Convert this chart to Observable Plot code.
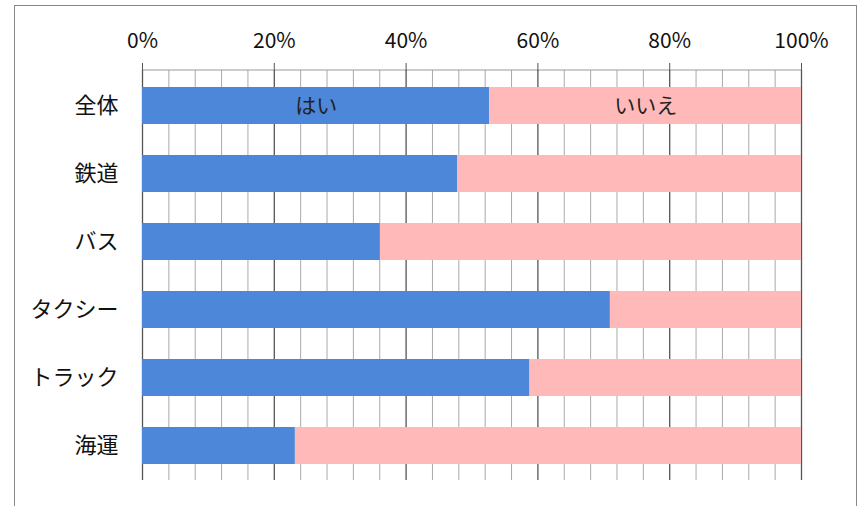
<!DOCTYPE html>
<html>
<head>
<meta charset="utf-8">
<script src="https://cdn.jsdelivr.net/npm/d3@7"></script>
<script src="https://cdn.jsdelivr.net/npm/@observablehq/plot@0.6"></script>
<style>
  html, body { margin: 0; padding: 0; background: #fff; }
  #wrap { position: relative; width: 861px; height: 506px; overflow: hidden; }
  #border { position: absolute; left: 14px; top: 5px; width: 843px; height: 600px; border: 1.5px solid #888; box-sizing: border-box; pointer-events: none; }
  #chart { position: absolute; left: 0; top: 0; }
</style>
</head>
<body>
<div id="wrap"><div id="chart"></div><div id="border"></div></div>
<script>
const categories = ["全体", "鉄道", "バス", "タクシー", "トラック", "海運"];
const answers = ["はい", "いいえ"];
const yesValues = [52.7, 47.8, 36.1, 71.0, 58.8, 23.2];
const noValues = [47.3, 52.2, 63.9, 29.0, 41.2, 76.8];
const majorTicks = [0, 20, 40, 60, 80, 100];
const gridTicks = [0, 4, 8, 12, 16, 20, 24, 28, 32, 36, 40, 44, 48, 52, 56, 60, 64, 68, 72, 76, 80, 84, 88, 92, 96, 100];
const labeledCategory = "全体";

const rows = [];
categories.forEach((c, i) => {
  rows.push({cat: c, answer: answers[0], value: yesValues[i]});
  rows.push({cat: c, answer: answers[1], value: noValues[i]});
});

const topLine = (index, scales, values, dims) => {
  const g = d3.create("svg:line")
    .attr("x1", scales.x(0)).attr("x2", scales.x(100))
    .attr("y1", dims.marginTop).attr("y2", dims.marginTop)
    .attr("stroke", "#999").attr("stroke-width", 1);
  return g.node();
};

const chart = Plot.plot({
  width: 861,
  height: 506,
  marginLeft: 142,
  marginRight: 60,
  marginTop: 70,
  marginBottom: 26,
  style: {fontFamily: "'Noto Sans CJK JP', 'Noto Sans', sans-serif", color: "#111", background: "transparent"},
  x: {domain: [0, 100]},
  y: {domain: categories, paddingInner: 0.46, paddingOuter: 0.23},
  color: {domain: answers, range: ["#4d87d9", "#ffb9b9"]},
  marks: [
    Plot.ruleX(gridTicks.filter(d => !majorTicks.includes(d)), {stroke: "#aaa", strokeWidth: 1}),
    Plot.ruleX(majorTicks, {stroke: "#555", strokeWidth: 1.3}),
    topLine,
    Plot.barX(rows, Plot.stackX({x: "value", y: "cat", fill: "answer", order: answers})),
    Plot.text(rows.filter(d => d.cat === labeledCategory), Plot.stackX({x: "value", y: "cat", text: "answer", z: "answer", order: answers, fontSize: 21, fill: "#222"})),
    Plot.axisX({anchor: "top", ticks: majorTicks, tickFormat: d => d + "%", tickSize: 8, tickPadding: 15, fontSize: 21, label: null, stroke: "#555"}),
    Plot.axisY({tickSize: 0, tickPadding: 24, fontSize: 22, label: null})
  ]
});
document.getElementById("chart").appendChild(chart);
</script>
</body>
</html>
